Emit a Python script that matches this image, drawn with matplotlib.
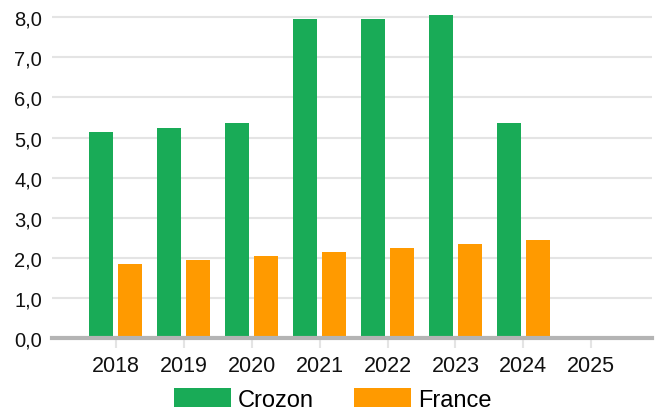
import numpy as np
import matplotlib.pyplot as plt
from matplotlib.ticker import FuncFormatter

plt.rcParams['font.family'] = ['Liberation Sans', 'DejaVu Sans']

# Yearly values for the commune and the national reference
years = ['2018', '2019', '2020', '2021', '2022', '2023', '2024', '2025']
crozon = [5.15, 5.25, 5.35, 7.95, 7.95, 8.05, 5.35, 0]
france = [1.85, 1.95, 2.05, 2.15, 2.25, 2.35, 2.45, 0]

green = '#19ab57'
orange = '#ff9a00'

fig = plt.figure(figsize=(6.62, 4.14), dpi=100)
ax = fig.add_axes([0.0785, 0.181, 0.907, 0.807])

x = np.arange(len(years))
w = 0.355
ax.bar(x - 0.215, crozon, width=w, color=green, label='Crozon', zorder=3)
ax.bar(x + 0.215, france, width=w, color=orange, label='France', zorder=3)

ax.set_xlim(-0.94, 7.9)
ax.set_ylim(0, 8.33)
ax.set_xticks(x)
ax.set_xticklabels(years)
ax.set_yticks(np.arange(0, 9, 1))
ax.yaxis.set_major_formatter(FuncFormatter(lambda v, p: f'{v:.1f}'.replace('.', ',')))

ax.grid(axis='y', color='#e4e4e4', linewidth=1.5, zorder=0)
for s in ['top', 'right', 'left']:
    ax.spines[s].set_visible(False)
ax.spines['bottom'].set_color('#b4b4b4')
ax.spines['bottom'].set_linewidth(3)
ax.spines['bottom'].set_zorder(4)

ax.tick_params(axis='y', length=0, labelsize=14.5, pad=7, labelcolor='#111111')
ax.tick_params(axis='x', length=7, width=1.5, color='#e4e4e4', labelsize=15.5,
               pad=5, labelcolor='#111111')

fig.legend(loc='center', bbox_to_anchor=(0.503, 0.033), ncol=2, frameon=False,
           fontsize=17, handlelength=2.4, handleheight=0.88, handletextpad=0.3,
           columnspacing=1.7)

fig.savefig('out.png', dpi=100)
